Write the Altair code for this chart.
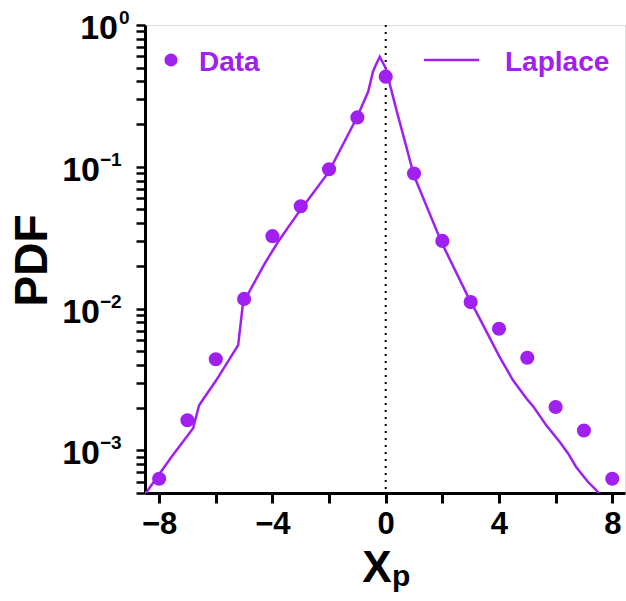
import altair as alt
import pandas as pd

PURPLE = "#A020F0"
FONT = "Liberation Sans"

# Data points
data_x = [-8, -7, -6, -5, -4, -3, -2, -1, 0, 1, 2, 3, 4, 5, 6, 7, 8]
data_y = [6.3e-4, 1.63e-3, 4.39e-3, 0.0117, 0.0324, 0.0527, 0.096, 0.223, 0.432,
          0.0897, 0.030, 0.0111, 7.2e-3, 4.5e-3, 2.02e-3, 1.38e-3, 6.3e-4]

# Laplace curve (traced vertices)
lap_x = [-8.5, -7.56, -6.80, -6.59, -5.98, -5.21, -5.04, -4.27, -3.80, -3.10, -2.01,
         -1.03, -0.62, -0.45, -0.35, -0.21, 0.0, 0.38, 0.73, 0.99, 1.97, 2.91, 3.32,
         4.02, 4.49, 4.97, 5.2, 5.67, 6.14, 6.44, 6.73, 7.14, 7.38, 7.53]
lap_y = [4.9e-4, 9.0e-4, 1.43e-3, 2.08e-3, 3.13e-3, 5.52e-3, 0.0109, 0.0208, 0.0296,
         0.0469, 0.092, 0.22, 0.338, 0.468, 0.522, 0.597, 0.495, 0.251, 0.138, 0.0874,
         0.0293, 0.0121, 8.5e-3, 4.56e-3, 3.13e-3, 2.32e-3, 2.05e-3, 1.5e-3, 1.15e-3,
         9.5e-4, 7.6e-4, 6.0e-4, 5.37e-4, 5.0e-4]

x_domain = [-8.5, 8.45]
y_domain = [5e-4, 1]
x_ticks = [-8, -6, -4, -2, 0, 2, 4, 6, 8]
y_ticks = [m * 10.0 ** e for e in (-4, -3, -2, -1) for m in range(1, 10) if m * 10.0 ** e >= 5e-4] + [1.0]
major_vals = [1.0, 0.1, 0.01, 0.001]
major_exps = ["0", "\u22121", "\u22122", "\u22123"]

df_pts = pd.DataFrame({"x": data_x, "y": data_y})
df_lap = pd.DataFrame({"x": lap_x, "y": lap_y})
df_zero = pd.DataFrame({"x": [0]})

X = alt.X("x:Q", scale=alt.Scale(domain=x_domain, nice=False, zero=False),
          axis=alt.Axis(values=x_ticks, title=None,
                        labelExpr="abs(datum.value) % 4 == 0 ? format(datum.value, 'd') : ''",
                        labelFontSize=31, labelFontWeight="bold", labelFont=FONT,
                        labelColor="black", labelPadding=6, tickSize=10, tickWidth=3,
                        tickColor="black", domainColor="black", domainWidth=3,
                        grid=False))
Y = alt.Y("y:Q", scale=alt.Scale(type="log", domain=y_domain, nice=False),
          axis=alt.Axis(values=y_ticks, labels=False, title="PDF",
                        titleFontSize=46, titleFont=FONT, titleFontWeight="bold",
                        titleColor="black", titleAngle=-90, titleX=-113, titleY=235,
                        titleAlign="center", titleBaseline="middle",
                        tickSize=9, tickWidth=2.5, tickColor="black",
                        domainColor="black", domainWidth=3, grid=False))

zero_line = alt.Chart(df_zero).mark_rule(color="black", strokeDash=[2, 5], strokeWidth=2).encode(x=X)

lap = alt.Chart(df_lap).mark_line(color=PURPLE, strokeWidth=2.5, clip=True).encode(x=X, y=Y)

pts = alt.Chart(df_pts).mark_circle(color=PURPLE, size=200, opacity=1).encode(x=X, y=Y)

df_l0 = pd.DataFrame({"y": major_vals[:1], "e": major_exps[:1]})
df_ln = pd.DataFrame({"y": major_vals[1:], "e": major_exps[1:]})

def tick_label(df, x_base, x_exp):
    base = alt.Chart(df).mark_text(text="10", align="right", baseline="middle", dy=4,
                                   fontSize=34, fontWeight="bold", font=FONT,
                                   color="black").encode(x=alt.value(x_base), y=Y)
    exp = alt.Chart(df).mark_text(align="left", baseline="middle", dy=-7,
                                  fontSize=19, fontWeight="bold", font=FONT,
                                  color="black").encode(x=alt.value(x_exp), y=Y, text="e:N")
    return base + exp

lbl0 = tick_label(df_l0, -27, -26)
lbln = tick_label(df_ln, -45, -45)

one = pd.DataFrame({"a": [0]})
leg_dot = alt.Chart(one).mark_circle(color=PURPLE, size=170, opacity=1).encode(
    x=alt.value(26), y=alt.value(35))
leg_data = alt.Chart(one).mark_text(text="Data", align="left", baseline="alphabetic",
                                    fontSize=28, fontWeight="bold", font=FONT,
                                    color=PURPLE).encode(x=alt.value(54), y=alt.value(46))
leg_line = alt.Chart(one).mark_rule(color=PURPLE, strokeWidth=2.5).encode(
    x=alt.value(279), x2=alt.value(334), y=alt.value(35))
leg_lap = alt.Chart(one).mark_text(text="Laplace", align="left", baseline="alphabetic",
                                   fontSize=28, fontWeight="bold", font=FONT,
                                   color=PURPLE).encode(x=alt.value(360), y=alt.value(46))

xt_X = alt.Chart(one).mark_text(text="X", align="center", baseline="alphabetic",
                                fontSize=44, fontWeight="bold", font=FONT,
                                color="black").encode(x=alt.value(232), y=alt.value(557))
xt_p = alt.Chart(one).mark_text(text="p", align="left", baseline="alphabetic",
                                fontSize=30, fontWeight="bold", font=FONT,
                                color="black").encode(x=alt.value(247), y=alt.value(561))

chart = alt.layer(
    zero_line, lap, pts, lbl0, lbln, leg_dot, leg_data, leg_line, leg_lap, xt_X, xt_p
).properties(
    width=480, height=468,
    autosize=alt.AutoSizeParams(type="none"),
    padding={"left": 145, "top": 25, "right": 1, "bottom": 108},
).configure_view(stroke="black", strokeWidth=3).configure(background="white")

chart.save("out.html", embed_options={"renderer": "svg", "actions": False})
